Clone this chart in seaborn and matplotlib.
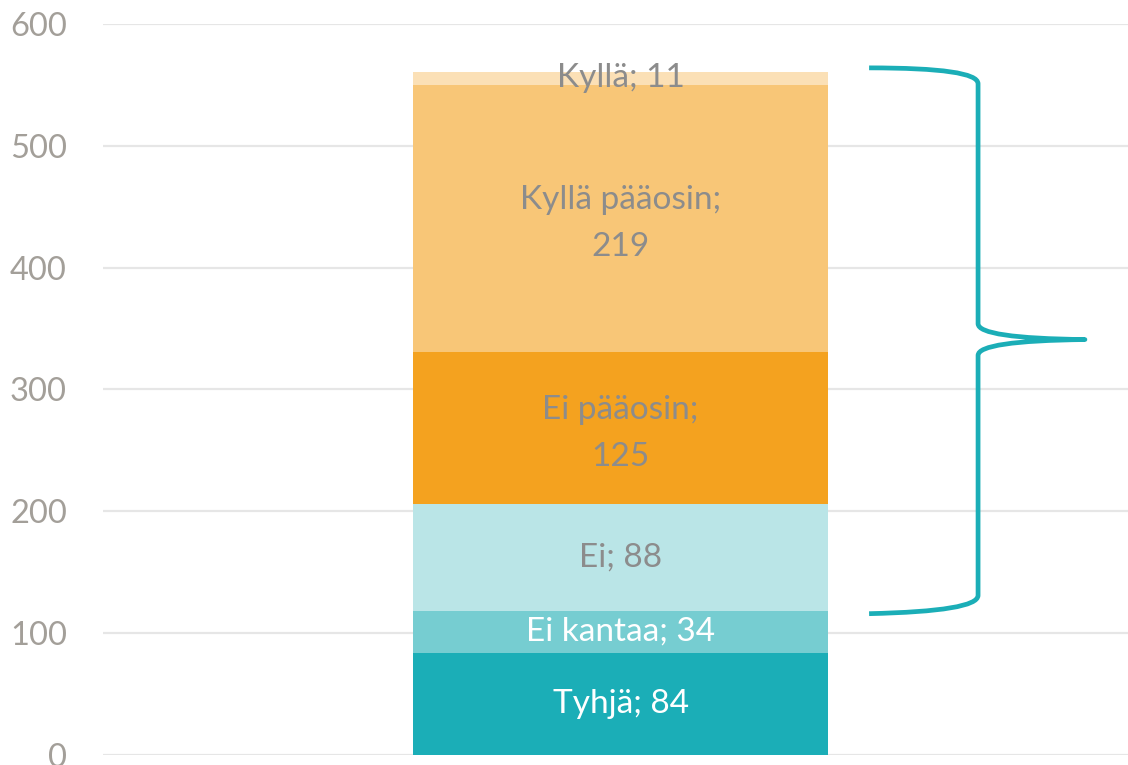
import numpy as np
import pandas as pd
import seaborn as sns
import matplotlib.pyplot as plt
from matplotlib.path import Path
from matplotlib.patches import PathPatch

# segments from bottom to top
categories = ["Tyhjä", "Ei kantaa", "Ei", "Ei pääosin", "Kyllä pääosin", "Kyllä"]
values = [84, 34, 88, 125, 219, 11]
labels = ["Tyhjä; 84", "Ei kantaa; 34", "Ei; 88", "Ei pääosin;\n125", "Kyllä pääosin;\n219", "Kyllä; 11"]
colors = ["#1BAEB7", "#76CDD1", "#BAE5E7", "#F4A21F", "#F8C677", "#FBE0B6"]
text_colors = ["white", "white", "#8C8C8C", "#8C8C8C", "#8C8C8C", "#8C8C8C"]
yticks = [0, 100, 200, 300, 400, 500, 600]

df = pd.DataFrame({"category": categories, "value": values})
df["top"] = df["value"].cumsum()
df["mid"] = df["top"] - df["value"] / 2
df["bar"] = "kaikki"

sns.set_style("white")
plt.rcParams["font.family"] = ["Lato", "DejaVu Sans"]

fig = plt.figure(figsize=(11.28, 7.65), dpi=100)
ax = fig.add_axes([103 / 1128, 10 / 765, 1 - 103 / 1128, 731 / 765])

# stacked bar: draw cumulative totals from the top down
for i in reversed(range(len(df))):
    sns.barplot(x=df["bar"].iloc[[i]], y=df["top"].iloc[[i]], color=colors[i],
                saturation=1, width=0.8, linewidth=0, edgecolor="none",
                ax=ax, zorder=2)

for i, row in df.iterrows():
    ax.text(0, row["mid"] - (4.5 if "\n" in labels[i] else 0), labels[i],
            ha="center", va="center", color=text_colors[i], fontsize=24,
            linespacing=1.72, zorder=3)

ax.set_ylim(0, 600)
ax.set_xlim(-0.9976, 0.978)
ax.set_yticks(yticks)
ax.set_yticklabels([str(t) for t in yticks], fontsize=23.5, color="#A39F99")
ax.tick_params(axis="y", length=0, pad=26)
ax.set_xticks([])
ax.set_xlabel("")
ax.set_ylabel("")
ax.yaxis.grid(True, color="#E6E6E6", linewidth=1.6, zorder=0)
ax.set_axisbelow(True)
for s in ax.spines.values():
    s.set_visible(False)

# curly brace over the answered segments
lo = df["top"].iloc[1]
hi = df["top"].iloc[-1] + 3
mid = (lo + hi) / 2
x0, x1, x2 = 0.479, 0.689, 0.895
r = 13
verts = [(x0, hi), (x1, hi), (x1, hi - r),
         (x1, mid + r), (x1, mid + 1), (x2, mid),
         (x1, mid - 1), (x1, mid - r),
         (x1, lo + r), (x1, lo), (x0, lo - 2)]
codes = [Path.MOVETO, Path.CURVE3, Path.CURVE3,
         Path.LINETO, Path.CURVE3, Path.CURVE3,
         Path.CURVE3, Path.CURVE3,
         Path.LINETO, Path.CURVE3, Path.CURVE3]
ax.add_patch(PathPatch(Path(verts, codes), facecolor="none", edgecolor="#1BAEB7",
                       linewidth=3.4, capstyle="butt", joinstyle="round",
                       clip_on=False, zorder=4))

fig.savefig("out.png", dpi=100)
